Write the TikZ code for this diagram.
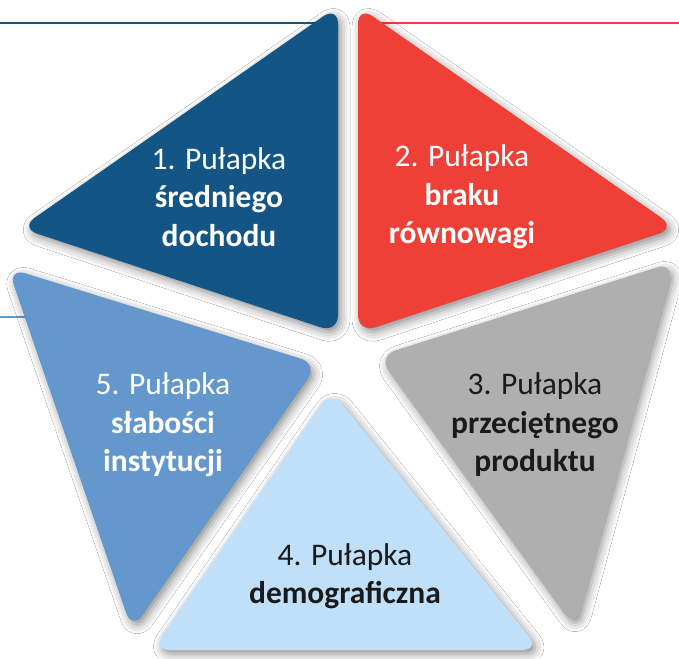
\documentclass[tikz,border=0pt]{standalone}
\usepackage{fontspec}
\setmainfont{Carlito}
\usetikzlibrary{shadows.blur}
\definecolor{cDark}{HTML}{135585}
\definecolor{cRed}{HTML}{EE4036}
\definecolor{cGray}{HTML}{AFAFAF}
\definecolor{cLight}{HTML}{C0E0FA}
\definecolor{cMid}{HTML}{6497CB}
\definecolor{cText}{HTML}{1A1A1A}
\tikzset{
  tri/.style={rounded corners=18pt, blur shadow={shadow xshift=3pt, shadow yshift=-4pt, shadow blur radius=9pt, shadow opacity=45}},
  lbl/.style={align=center, font=\fontsize{31.5}{38.5}\selectfont},
  rule/.style={line width=2pt}
}
\begin{document}
\begin{tikzpicture}[x=1pt,y=-1pt]
\useasboundingbox (0,0) rectangle (679,658);
\fill[white] (0,0) rectangle (679,658);
% header rules
\coordinate (l1a) at (0,23); \coordinate (l1b) at (316,23);
\coordinate (l2a) at (380,23); \coordinate (l2b) at (679,23);
\coordinate (l3a) at (0,317); \coordinate (l3b) at (60,317);
\draw[rule, cDark] (l1a) -- (l1b);
\draw[rule, cRed] (l2a) -- (l2b);
\draw[rule, cMid] (l3a) -- (l3b);
% triangle 5
\path[tri, fill=cMid] (8,268) -- (318,364) -- (132,630) -- cycle;
% triangle 4
\path[tri, fill=cLight] (331,390) -- (540,650) -- (152,650) -- cycle;
% triangle 3
\path[tri, fill=cGray] (378,356) -- (674,262) -- (575,628) -- cycle;
% triangle 2
\path[tri, fill=cRed] (358,6) -- (676,228) -- (358,333) -- cycle;
% triangle 1
\path[tri, fill=cDark] (338,6) -- (338,333) -- (20,228) -- cycle;
% labels
\node[lbl, text=white] (t1) at (219,197) {1. Pułapka\\\textbf{średniego}\\\textbf{dochodu}};
\node[lbl, text=white] (t2) at (462,197) {2. Pułapka\\\textbf{braku}\\\textbf{równowagi}};
\node[lbl, text=cText] (t3) at (535,425) {3. Pułapka\\\textbf{przeciętnego}\\\textbf{produktu}};
\node[lbl, text=cText] (t4) at (345,576) {4. Pułapka\\\textbf{demograficzna}};
\node[lbl, text=white] (t5) at (163,425) {5. Pułapka\\\textbf{słabości}\\\textbf{instytucji}};
\end{tikzpicture}
\end{document}
